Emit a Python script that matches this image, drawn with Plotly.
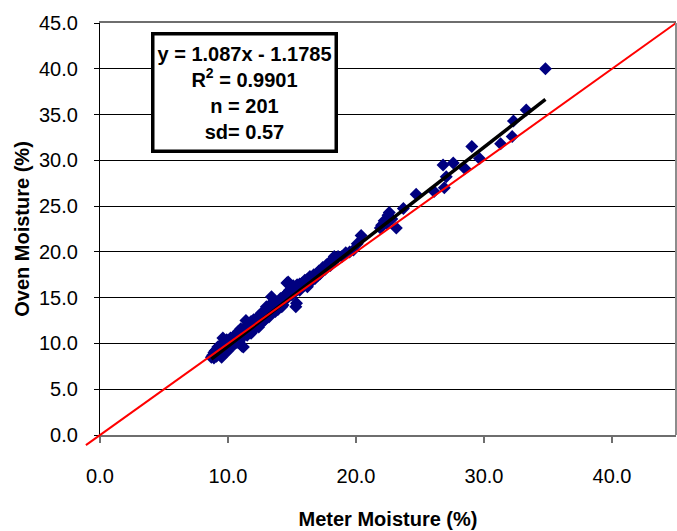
import plotly.graph_objects as go

# Meter vs oven moisture readings (%), 201 samples
meter = [
    # 8.7 - 10
    8.7, 8.8, 8.9, 9.0, 9.0, 9.1, 9.2, 9.3, 9.3, 9.4, 9.5, 9.5, 9.6, 9.6, 9.7, 9.7, 9.8, 9.8, 9.9, 9.9,
    10.0, 10.0, 9.2, 8.9, 9.4,
    # 10 - 11
    10.1, 10.1, 10.2, 10.3, 10.3, 10.4, 10.4, 10.5, 10.5, 10.6, 10.6, 10.7, 10.7, 10.8, 10.8, 10.9, 10.9,
    11.0, 11.0, 11.1,
    # 11 - 12
    11.1, 11.2, 11.2, 11.3, 11.3, 11.4, 11.4, 11.5, 11.5, 11.6, 11.6, 11.7, 11.7, 11.8, 11.8, 11.9, 11.9,
    12.0, 12.0, 12.0, 11.5, 11.8,
    # 12 - 13
    12.1, 12.1, 12.2, 12.2, 12.3, 12.3, 12.4, 12.4, 12.5, 12.5, 12.6, 12.6, 12.7, 12.7, 12.8, 12.8, 12.9,
    12.9, 13.0, 13.0, 13.0, 12.4,
    # 13 - 14
    13.1, 13.1, 13.2, 13.2, 13.3, 13.3, 13.4, 13.4, 13.5, 13.5, 13.6, 13.6, 13.7, 13.7, 13.8, 13.8, 13.9,
    13.9, 14.0, 14.0,
    # 14 - 15
    14.1, 14.1, 14.2, 14.3, 14.3, 14.4, 14.5, 14.5, 14.6, 14.6, 14.7, 14.7, 14.8, 14.8, 14.9, 15.0, 15.0, 14.4,
    # 15 - 16
    15.1, 15.2, 15.3, 15.35, 15.4, 15.4, 15.5, 15.6, 15.7, 15.8, 15.9, 16.0, 16.0, 15.6,
    # 16 - 17
    16.1, 16.2, 16.3, 16.5, 16.6, 16.7, 16.8, 16.9, 17.0, 16.4,
    # 17 - 18.3
    17.1, 17.3, 17.4, 17.6, 17.7, 17.9, 18.0, 18.1, 18.2,
    # extra band readings
    9.1, 10.2, 11.0, 12.1, 12.6, 13.4, 14.2, 15.1, 16.2, 17.2,
    # upper range
    34.8, 33.3, 32.3, 32.2, 31.3, 29.05, 29.65, 28.5, 27.6, 26.8, 27.05, 26.9, 26.1, 24.7, 23.7, 23.15,
    22.6, 22.4, 22.0, 22.5, 22.8, 22.2, 21.9, 20.4, 20.1, 19.8, 19.5, 19.2, 18.9, 18.6, 18.3,
]

oven = [
    8.5, 8.7, 8.4, 8.8, 9.2, 8.6, 9.0, 8.9, 9.4, 8.7, 9.1, 8.5, 10.6, 9.6, 9.3, 10.2, 9.0, 9.8, 9.5, 10.4,
    9.2, 9.9, 9.6, 9.0, 9.8,
    10.2, 9.6, 9.9, 10.5, 9.8, 10.1, 10.7, 10.3, 9.9, 10.8, 10.4, 10.1, 11.0, 10.6, 11.3, 10.9, 10.3,
    11.1, 10.7, 9.7,
    11.4, 10.9, 9.6, 11.2, 11.7, 11.0, 12.5, 11.5, 12.0, 11.3, 11.8, 12.2, 11.6, 11.9, 12.4, 11.4, 12.1,
    12.6, 11.8, 12.2, 10.9, 11.1,
    12.0, 12.5, 12.3, 11.9, 12.7, 12.1, 12.4, 13.0, 12.6, 12.2, 12.9, 13.3, 12.5, 13.1, 12.8, 13.5, 13.0,
    12.6, 13.3, 14.0, 12.8, 11.8,
    13.1, 13.6, 13.4, 12.9, 13.8, 13.2, 15.1, 13.5, 14.0, 13.4, 13.7, 14.3, 14.1, 13.5, 14.4, 13.9, 14.2,
    13.7, 14.6, 14.0,
    14.3, 14.9, 14.5, 15.0, 14.2, 14.7, 15.3, 14.8, 16.6, 15.0, 15.6, 16.7, 15.2, 15.8, 15.4, 15.9, 15.3, 15.2,
    15.6, 16.1, 14.0, 14.4, 15.9, 16.4, 16.0, 16.5, 16.2, 16.6, 16.3, 16.9, 16.4, 15.8,
    16.6, 17.0, 16.7, 17.2, 16.9, 17.5, 17.1, 17.6, 17.4, 17.3,
    17.9, 18.0, 18.3, 18.1, 18.6, 18.8, 18.5, 19.1, 18.9,
    9.3, 10.6, 11.6, 11.6, 12.2, 14.4, 14.0, 16.3, 16.2, 17.6,
    40.0, 35.5, 34.3, 32.6, 31.8, 31.5, 30.2, 29.1, 29.7, 29.5, 28.2, 27.0, 26.6, 26.3, 24.75, 22.6,
    24.3, 23.1, 22.9, 24.0, 23.6, 23.4, 22.6, 21.8, 20.9, 20.2, 20.0, 19.9, 19.5, 19.5, 19.5,
]

# Linear fit reported for the data
slope, intercept = 1.087, -1.1785
fit_x = [min(meter), max(meter)]
fit_y = [slope * v + intercept for v in fit_x]

# 1:1 reference line
ref_start, ref_end = -1.1, 45.0

x_range = [0, 45]
y_range = [0, 45]
x_ticks = [0, 10, 20, 30, 40]
x_labels = ["0.0", "10.0", "20.0", "30.0", "40.0"]
y_ticks = [0, 5, 10, 15, 20, 25, 30, 35, 40, 45]
y_labels = ["0.0", "5.0", "10.0", "15.0", "20.0", "25.0", "30.0", "35.0", "40.0", "45.0"]

FONT = "Liberation Sans, Arial, sans-serif"

fig = go.Figure()

fig.add_trace(go.Scatter(
    x=meter, y=oven, mode="markers",
    marker=dict(symbol="diamond", size=10, color="#000080", line=dict(width=0)),
    showlegend=False, hoverinfo="x+y",
))

fig.add_trace(go.Scatter(
    x=fit_x, y=fit_y, mode="lines",
    line=dict(color="black", width=3.5),
    showlegend=False, hoverinfo="skip",
))


def to_xdom(v):
    return (v - x_range[0]) / (x_range[1] - x_range[0])


def to_ydom(v):
    return (v - y_range[0]) / (y_range[1] - y_range[0])


# 1:1 line, allowed to run past the axis corner
fig.add_shape(
    type="line", xref="x domain", yref="y domain",
    x0=to_xdom(ref_start), y0=to_ydom(ref_start),
    x1=to_xdom(ref_end), y1=to_ydom(ref_end),
    line=dict(color="red", width=2), layer="above",
)

# grey frame on the right side of the plot area
fig.add_shape(
    type="line", xref="x domain", yref="y domain",
    x0=1, y0=0, x1=1, y1=1,
    line=dict(color="#8c8c8c", width=2), layer="above",
)

fig.add_annotation(
    x=4.0, y=44.0, xref="x", yref="y",
    xanchor="left", yanchor="top",
    text="y = 1.087x - 1.1785<br>R<sup>2</sup> = 0.9901<br>n = 201<br>sd= 0.57",
    showarrow=False, align="center", valign="middle",
    width=178, height=112,
    font=dict(family=FONT, size=20, color="black", weight="bold"),
    bgcolor="white", bordercolor="black", borderwidth=3.5, borderpad=1,
)

fig.update_layout(
    width=677, height=531,
    margin=dict(l=100, r=1, t=23, b=96),
    paper_bgcolor="white", plot_bgcolor="white",
    font=dict(family=FONT, size=20, color="black"),
)

fig.update_xaxes(
    range=x_range, tickmode="array", tickvals=x_ticks, ticktext=x_labels,
    showgrid=False, zeroline=False,
    showline=True, linecolor="#6e6e6e", linewidth=2, mirror=True,
    ticks="outside", ticklen=6, tickcolor="#6e6e6e", tickwidth=1.5,
    ticklabelstandoff=16,
    title=dict(text="<b>Meter Moisture (%)</b>", font=dict(size=20), standoff=26),
)

fig.update_yaxes(
    range=y_range, tickmode="array", tickvals=y_ticks, ticktext=y_labels,
    showgrid=True, gridcolor="black", gridwidth=1, zeroline=False,
    showline=True, linecolor="black", linewidth=1.2,
    ticks="outside", ticklen=5, tickcolor="black", tickwidth=1,
    ticklabelstandoff=12,
    title=dict(text="<b>Oven Moisture (%)</b>", font=dict(size=20), standoff=3),
)

fig.write_html("out.html")
